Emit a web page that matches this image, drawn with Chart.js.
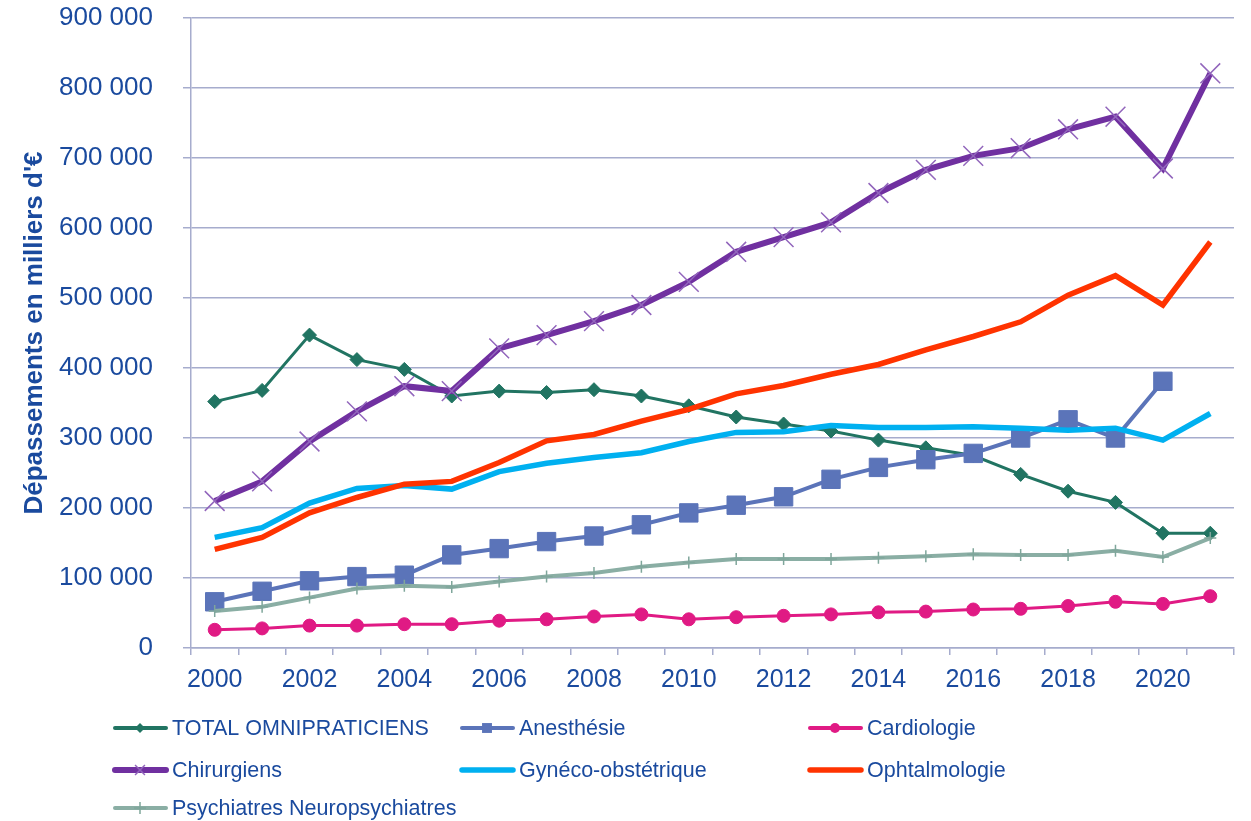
<!DOCTYPE html>
<html>
<head>
<meta charset="utf-8">
<script src="https://cdn.jsdelivr.net/npm/chart.js@4/dist/chart.umd.min.js"></script>
<style>
    html, body { margin: 0; padding: 0; background: #fff; }
    #wrap { width: 1251px; height: 821px; position: relative; }
</style>
</head>
<body>
<div id="wrap"><canvas id="grafico"></canvas></div>
<script>
const annees = ["2000", "2001", "2002", "2003", "2004", "2005", "2006", "2007", "2008", "2009", "2010",
                "2011", "2012", "2013", "2014", "2015", "2016", "2017", "2018", "2019", "2020", "2021"];

const omnipraticiens = [352000, 368000, 447000, 412000, 398000, 360000, 367000, 365000, 369000, 360000, 346000,
                        330000, 320000, 310000, 297000, 286000, 275000, 248000, 224000, 208000, 164000, 164000];
const anesthesie = [66000, 81000, 96000, 102000, 104000, 133000, 142000, 152000, 160000, 176000, 193000,
                    204000, 216000, 241000, 258000, 269000, 278000, 300000, 326000, 300000, 381000, null];
const cardiologie = [26000, 28000, 32000, 32000, 34000, 34000, 39000, 41000, 45000, 48000, 41000,
                     44000, 46000, 48000, 51000, 52000, 55000, 56000, 60000, 66000, 63000, 74000];
const chirurgiens = [210000, 238000, 295000, 338000, 374000, 367000, 428000, 447000, 467000, 490000, 523000,
                     566000, 587000, 608000, 650000, 683000, 703000, 714000, 741000, 759000, 685000, 821000];
const gyneco = [158000, 172000, 207000, 228000, 232000, 227000, 252000, 264000, 272000, 279000, 295000,
                308000, 309000, 318000, 315000, 315000, 316000, 314000, 311000, 314000, 297000, 335000];
const ophtalmo = [141000, 158000, 193000, 215000, 234000, 238000, 265000, 296000, 305000, 324000, 341000,
                  363000, 375000, 391000, 405000, 426000, 445000, 466000, 504000, 532000, 490000, 580000];
const psychiatres = [53000, 59000, 72000, 85000, 89000, 87000, 95000, 102000, 107000, 116000, 122000,
                     127000, 127000, 127000, 129000, 131000, 134000, 133000, 133000, 139000, 130000, 157000];

const titreY = "Dépassements en milliers d'€";
const couleurTexte = "#1A4A9E";
const couleurAxe = "#A6ACCD";
const police = "'Liberation Sans', Arial, sans-serif";

function serie(label, data, couleur, largeur, style, rayon, markerColor, markerWidth) {
    return {
        label: label,
        data: data,
        borderColor: couleur,
        backgroundColor: markerColor || couleur,
        borderWidth: largeur,
        pointStyle: style,
        pointRadius: style ? rayon : 0,
        pointBorderColor: markerColor || couleur,
        pointBackgroundColor: markerColor || couleur,
        pointBorderWidth: markerWidth || 1,
        tension: 0,
        fill: false,
        spanGaps: false
    };
}

const datasets = [
    serie("TOTAL OMNIPRATICIENS", omnipraticiens, "#217462", 3, "rectRot", 7),
    serie("Anesthésie", anesthesie, "#5B74B9", 4, "rect", 13),
    serie("Cardiologie", cardiologie, "#E01A84", 3, "circle", 6.5),
    serie("Chirurgiens", chirurgiens, "#7030A0", 6, "crossRot", 14, "#9266BC", 1.5),
    serie("Gynéco-obstétrique", gyneco, "#00B0F0", 5.5, false, 0),
    serie("Ophtalmologie", ophtalmo, "#FF3300", 5.5, false, 0),
    serie("Psychiatres Neuropsychiatres", psychiatres, "#8AAEA4", 4, "cross", 6, "#7FA69B", 1.5)
];
const legendRayons = [5, 7, 5, 7, 0, 0, 6];
// ordre Excel : la dernière série au-dessus
datasets.forEach((d, i) => { d.order = datasets.length - i; });

function formatNombre(v) {
    return String(v).replace(/\B(?=(\d{3})+(?!\d))/g, " ");
}

function dessinerMarqueur(ctx, style, x, y, r, couleur, lw) {
    ctx.save();
    ctx.fillStyle = couleur;
    ctx.strokeStyle = couleur;
    ctx.lineWidth = lw;
    ctx.beginPath();
    if (style === "rectRot") {
        ctx.moveTo(x - r, y); ctx.lineTo(x, y - r); ctx.lineTo(x + r, y); ctx.lineTo(x, y + r);
        ctx.closePath(); ctx.fill();
    } else if (style === "rect") {
        const s = r * Math.SQRT1_2;
        ctx.rect(x - s, y - s, 2 * s, 2 * s); ctx.fill();
    } else if (style === "circle") {
        ctx.arc(x, y, r, 0, Math.PI * 2); ctx.fill();
    } else if (style === "crossRot") {
        const s = r * Math.SQRT1_2;
        ctx.moveTo(x - s, y - s); ctx.lineTo(x + s, y + s);
        ctx.moveTo(x - s, y + s); ctx.lineTo(x + s, y - s);
        ctx.stroke();
    } else if (style === "cross") {
        ctx.moveTo(x, y - r); ctx.lineTo(x, y + r);
        ctx.moveTo(x - r, y); ctx.lineTo(x + r, y);
        ctx.stroke();
    }
    ctx.restore();
}

const legendePlugin = {
    id: "legendeColonnes",
    afterDraw(chart) {
        const ctx = chart.ctx;
        const colonnes = [113, 460, 808];
        const lignes = [728, 770, 808];
        chart.data.datasets.forEach((d, i) => {
            const x = colonnes[i % 3];
            const y = lignes[Math.floor(i / 3)];
            ctx.save();
            ctx.strokeStyle = d.borderColor;
            ctx.lineWidth = Math.max(d.borderWidth, 4);
            ctx.lineCap = "round";
            ctx.beginPath();
            ctx.moveTo(x + 2, y);
            ctx.lineTo(x + 53, y);
            ctx.stroke();
            ctx.restore();
            if (d.pointStyle) {
                dessinerMarqueur(ctx, d.pointStyle, x + 27, y, legendRayons[i], d.pointBorderColor, d.pointBorderWidth);
            }
            ctx.save();
            ctx.fillStyle = couleurTexte;
            ctx.font = "21.5px " + police;
            ctx.textBaseline = "middle";
            ctx.textAlign = "left";
            ctx.fillText(d.label, x + 59, y + 1);
            ctx.restore();
        });
    }
};

const ctx = document.getElementById("grafico").getContext("2d");
new Chart(ctx, {
    type: "line",
    data: { labels: annees, datasets: datasets },
    plugins: [legendePlugin],
    options: {
        responsive: true,
        maintainAspectRatio: false,
        animation: false,
        layout: { autoPadding: false, padding: { top: 18, right: 17, bottom: 128, left: 0 } },
        plugins: {
            legend: { display: false },
            tooltip: { enabled: false }
        },
        scales: {
            x: {
                offset: true,
                afterFit: s => { s.height = 45; },
                grid: {
                    offset: true,
                    drawOnChartArea: false,
                    drawTicks: true,
                    tickLength: 7,
                    color: couleurAxe,
                    lineWidth: 1.5
                },
                border: { display: true, color: couleurAxe, width: 1.5 },
                ticks: {
                    autoSkip: false,
                    maxRotation: 0,
                    padding: 10,
                    color: couleurTexte,
                    font: { size: 25, family: police },
                    callback: function (val, i) { return i % 2 === 0 ? annees[i] : ""; }
                }
            },
            y: {
                min: 0,
                max: 900000,
                afterFit: s => {
                    s.width = 191;
                    s.paddingTop = 0;
                    s.paddingBottom = 0;
                },
                grid: {
                    color: couleurAxe,
                    lineWidth: 1.5,
                    tickLength: 8
                },
                border: { display: true, color: couleurAxe, width: 1.5 },
                ticks: {
                    stepSize: 100000,
                    padding: 30,
                    color: couleurTexte,
                    font: { size: 26, family: police },
                    callback: v => formatNombre(v)
                },
                title: {
                    display: true,
                    text: titreY,
                    color: couleurTexte,
                    padding: { top: 19, bottom: 0 },
                    font: { size: 26, weight: "bold", family: police }
                }
            }
        }
    }
});
</script>
</body>
</html>
